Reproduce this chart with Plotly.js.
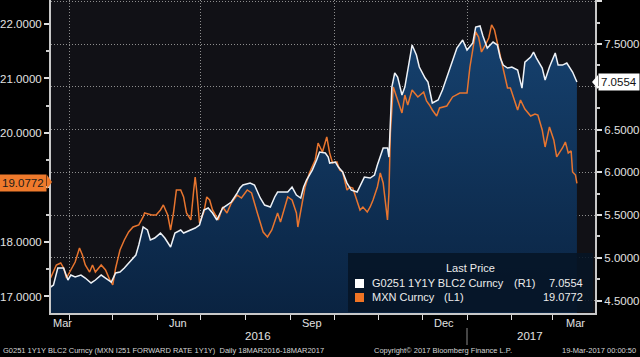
<!DOCTYPE html>
<html>
<head>
<meta charset="utf-8">
<script src="https://cdn.plot.ly/plotly-3.0.1.min.js"></script>
<style>
html,body{margin:0;padding:0;background:#000;}
#chart{width:640px;height:357px;}
</style>
</head>
<body>
<div id="chart"></div>
<script>
// G0251 1Y1Y BLC2 Curncy (right axis, R1)
const g0251Dates = ['2016-03-19','2016-03-21','2016-03-24','2016-03-28','2016-03-31','2016-04-02','2016-04-05','2016-04-09','2016-04-12','2016-04-16',
'2016-04-19','2016-04-23','2016-04-26','2016-04-30','2016-05-03','2016-05-06','2016-05-09','2016-05-13','2016-05-17','2016-05-19',
'2016-05-21','2016-05-22','2016-05-25','2016-05-27','2016-05-30','2016-06-03','2016-06-06','2016-06-10','2016-06-13','2016-06-17',
'2016-06-19','2016-06-24','2016-06-27','2016-06-30','2016-07-03','2016-07-06','2016-07-09','2016-07-12','2016-07-16','2016-07-19',
'2016-07-22','2016-07-26','2016-07-28','2016-07-30','2016-08-04','2016-08-07','2016-08-11','2016-08-14','2016-08-18','2016-08-21',
'2016-08-23','2016-08-27','2016-08-30','2016-09-02','2016-09-05','2016-09-08','2016-09-10','2016-09-12','2016-09-16','2016-09-19',
'2016-09-21','2016-09-25','2016-09-27','2016-09-28','2016-10-02','2016-10-04','2016-10-07','2016-10-10','2016-10-13','2016-10-17',
'2016-10-20','2016-10-22','2016-10-26','2016-10-29','2016-10-31','2016-11-04','2016-11-07','2016-11-08','2016-11-10','2016-11-12',
'2016-11-14','2016-11-17','2016-11-19','2016-11-21','2016-11-24','2016-11-27','2016-11-29','2016-12-03','2016-12-05','2016-12-08',
'2016-12-12','2016-12-15','2016-12-20','2016-12-25','2016-12-29','2017-01-01','2017-01-05','2017-01-07','2017-01-10','2017-01-12',
'2017-01-15','2017-01-19','2017-01-22','2017-01-24','2017-01-26','2017-01-29','2017-02-01','2017-02-05','2017-02-08','2017-02-10',
'2017-02-14','2017-02-16','2017-02-18','2017-02-22','2017-02-24','2017-02-27','2017-03-03','2017-03-05','2017-03-08','2017-03-11',
'2017-03-15','2017-03-17','2017-03-18'];
const g0251Values = [4.658,4.681,4.880,4.880,4.740,4.798,4.775,4.798,4.763,4.705,
4.740,4.798,4.763,4.716,4.822,4.833,4.880,4.950,5.032,5.149,
5.301,5.360,5.325,5.208,5.231,5.289,5.231,5.126,5.289,5.325,
5.289,5.325,5.348,5.383,5.558,5.582,5.523,5.442,5.582,5.617,
5.652,5.757,5.816,5.851,5.874,5.851,5.699,5.617,5.594,5.711,
5.769,5.769,5.769,5.827,5.734,5.699,5.827,5.909,6.026,6.143,
6.237,6.225,6.178,6.108,6.120,6.061,6.003,5.874,5.792,5.769,
5.874,5.944,5.933,5.968,6.085,6.284,6.284,6.178,6.997,7.161,
7.114,6.904,6.997,7.196,7.488,7.371,7.231,7.102,7.056,6.810,
6.845,6.962,7.196,7.453,7.547,7.430,7.512,7.699,7.711,7.594,
7.453,7.523,7.488,7.336,7.254,7.219,7.231,7.196,6.985,7.289,
7.348,7.406,7.336,7.219,7.079,7.231,7.395,7.254,7.254,7.278,
7.173,7.102,7.0554];

// MXN Curncy (left axis, L1)
const mxnDates = ['2016-03-19','2016-03-23','2016-03-26','2016-03-28','2016-03-30','2016-04-01','2016-04-05','2016-04-08','2016-04-10','2016-04-12',
'2016-04-15','2016-04-17','2016-04-19','2016-04-23','2016-04-26','2016-04-29','2016-05-01','2016-05-03','2016-05-06','2016-05-09',
'2016-05-12','2016-05-15','2016-05-19','2016-05-22','2016-05-23','2016-05-28','2016-05-31','2016-06-03','2016-06-05','2016-06-08',
'2016-06-10','2016-06-12','2016-06-14','2016-06-17','2016-06-19','2016-06-21','2016-06-24','2016-06-26','2016-06-27','2016-06-28',
'2016-06-30','2016-07-03','2016-07-05','2016-07-07','2016-07-09','2016-07-13','2016-07-16','2016-07-19','2016-07-22','2016-07-26',
'2016-07-29','2016-08-02','2016-08-05','2016-08-09','2016-08-13','2016-08-16','2016-08-19','2016-08-23','2016-08-25','2016-08-28',
'2016-08-30','2016-09-02','2016-09-05','2016-09-06','2016-09-09','2016-09-11','2016-09-14','2016-09-18','2016-09-20','2016-09-23',
'2016-09-26','2016-09-28','2016-09-30','2016-10-03','2016-10-05','2016-10-07','2016-10-10','2016-10-12','2016-10-14','2016-10-17',
'2016-10-19','2016-10-21','2016-10-24','2016-10-26','2016-10-28','2016-10-31','2016-11-02','2016-11-04','2016-11-06','2016-11-07',
'2016-11-08','2016-11-09','2016-11-11','2016-11-14','2016-11-17','2016-11-19','2016-11-21','2016-11-24','2016-11-28','2016-12-02',
'2016-12-04','2016-12-06','2016-12-08','2016-12-11','2016-12-13','2016-12-18','2016-12-22','2016-12-27','2017-01-01','2017-01-03',
'2017-01-05','2017-01-07','2017-01-09','2017-01-11','2017-01-13','2017-01-16','2017-01-18','2017-01-20','2017-01-22','2017-01-24',
'2017-01-26','2017-01-29','2017-01-31','2017-02-02','2017-02-05','2017-02-07','2017-02-10','2017-02-14','2017-02-17','2017-02-19',
'2017-02-22','2017-02-24','2017-02-27','2017-03-02','2017-03-04','2017-03-08','2017-03-10','2017-03-12','2017-03-14','2017-03-15',
'2017-03-17','2017-03-18'];
const mxnValues = [17.339,17.578,17.615,17.523,17.339,17.431,17.633,17.890,17.761,17.578,
17.449,17.578,17.449,17.578,17.486,17.303,17.211,17.523,17.853,18.037,
18.183,18.275,18.312,18.459,18.532,18.495,18.495,18.587,18.679,18.495,
18.220,18.532,18.954,18.954,18.826,18.532,18.404,18.954,19.193,18.954,
18.349,18.550,18.826,18.771,18.587,18.404,18.642,18.532,18.716,18.862,
18.807,18.954,18.899,18.532,18.183,18.092,18.220,18.532,18.367,18.642,
18.826,18.771,18.532,18.275,18.716,19.009,19.266,19.505,19.816,19.651,
19.927,19.633,19.450,19.468,19.321,19.284,18.954,19.009,18.991,18.771,
18.587,18.642,18.550,18.642,18.771,19.009,19.266,19.083,18.642,18.404,
18.899,20.000,20.844,20.606,20.367,20.697,20.514,20.789,20.661,20.752,
20.587,20.514,20.422,20.312,20.459,20.495,20.661,20.734,20.734,21.211,
21.560,21.853,21.761,21.486,21.578,21.743,21.982,21.890,21.651,21.431,
21.193,20.826,20.826,20.661,20.422,20.606,20.440,20.312,20.349,20.330,
20.055,19.743,20.110,19.872,19.560,19.725,19.835,19.633,19.670,19.284,
19.229,19.0772];

const leftTicks = [17, 18, 19, 20, 21, 22];
const leftTickText = ['17.0000', '18.0000', '', '20.0000', '21.0000', '22.0000']; // 19.0000 sits under the last-value tag
const rightTicks = [4.5, 5.0, 5.5, 6.0, 6.5, 7.0, 7.5, 8.0];
const rightTickText = ['4.5000','5.0000','5.5000','6.0000','6.5000','','7.5000','']; // 7.0000 sits under the last-value tag
const quarterStarts = ['2016-04-01','2016-07-01','2016-10-01','2017-01-01'];
const monthStarts = ['2016-04-01','2016-05-01','2016-06-01','2016-07-01','2016-08-01','2016-09-01','2016-10-01','2016-11-01','2016-12-01','2017-01-01','2017-02-01','2017-03-01'];
const monthLabels = ['Mar','Jun','Sep','Dec','Mar'];
const monthLabelDates = ['2016-03-27','2016-06-15','2016-09-16','2016-12-16','2017-03-17'];
const yearLabels = ['2016','2017'];
const lastG0251 = '7.0554';
const lastMXN = '19.0772';

const W = 544, H = 313, L = 51; // plot area in px, for overlay text
const px = x => (x - L) / W;
const py = y => (H - y) / H;

const rightRange = [4.354, 8.015];
const leftRange = [16.697, 22.44];

const traces = [
  // area under G0251 (base subplot, right axis)
  { x: g0251Dates, y: g0251Values, xaxis: 'x', yaxis: 'y', type: 'scatter', mode: 'lines',
    line: { width: 0, color: 'rgba(0,0,0,0)' }, fill: 'tozeroy',
    fillgradient: { type: 'vertical', start: 4.35, stop: 7.75,
      colorscale: [[0, '#0a2341'], [1, '#164270']] },
    hoverinfo: 'skip' },
  // MXN line (left axis, overlay)
  { x: mxnDates, y: mxnValues, xaxis: 'x', yaxis: 'y2', type: 'scatter', mode: 'lines',
    line: { width: 1.5, color: '#e8752f' } },
  // G0251 line on top (hidden duplicate of right axis)
  { x: g0251Dates, y: g0251Values, xaxis: 'x', yaxis: 'y3', type: 'scatter', mode: 'lines',
    line: { width: 1.5, color: '#eef2f7' } }
];

const gridCol = '#8e8e8e';
const axCol = '#c8c8c8';
const font = 'Liberation Sans, Arial, sans-serif';

const annotations = [];
monthLabels.forEach((t, i) => annotations.push({
  text: t, xref: 'x', x: monthLabelDates[i], yref: 'paper', y: py(323),
  showarrow: false, xanchor: 'center', yanchor: 'middle',
  font: { size: 11, color: '#e2e2e2', family: font }
}));
annotations.push({ text: yearLabels[0], xref: 'paper', x: px(258), yref: 'paper', y: py(336),
  showarrow: false, xanchor: 'center', yanchor: 'middle', font: { size: 11.5, color: '#e2e2e2', family: font } });
annotations.push({ text: yearLabels[1], xref: 'paper', x: px(530), yref: 'paper', y: py(336),
  showarrow: false, xanchor: 'center', yanchor: 'middle', font: { size: 11.5, color: '#e2e2e2', family: font } });
// footer
annotations.push({ text: 'G0251 1Y1Y BLC2 Curncy (MXN I251 FORWARD RATE 1Y1Y)  Daily 18MAR2016-18MAR2017',
  xref: 'paper', x: px(1), yref: 'paper', y: py(350), showarrow: false, xanchor: 'left', yanchor: 'middle',
  font: { size: 7.5, color: '#d6d6d6', family: font } });
annotations.push({ text: 'Copyright© 2017 Bloomberg Finance L.P.',
  xref: 'paper', x: px(372), yref: 'paper', y: py(350), showarrow: false, xanchor: 'left', yanchor: 'middle',
  font: { size: 7.5, color: '#d6d6d6', family: font } });
annotations.push({ text: '19-Mar-2017 00:00:50',
  xref: 'paper', x: px(638), yref: 'paper', y: py(350), showarrow: false, xanchor: 'right', yanchor: 'middle',
  font: { size: 7.5, color: '#d6d6d6', family: font } });
// legend
const lf = { size: 11, color: '#ececec', family: font };
annotations.push({ text: 'Last Price', xref: 'paper', x: px(470), yref: 'paper', y: py(268),
  showarrow: false, xanchor: 'center', yanchor: 'middle', font: lf });
annotations.push({ text: 'G0251 1Y1Y BLC2 Curncy', xref: 'paper', x: px(370), yref: 'paper', y: py(283),
  showarrow: false, xanchor: 'left', yanchor: 'middle', font: lf });
annotations.push({ text: '(R1)', xref: 'paper', x: px(512), yref: 'paper', y: py(283),
  showarrow: false, xanchor: 'left', yanchor: 'middle', font: lf });
annotations.push({ text: lastG0251, xref: 'paper', x: px(585), yref: 'paper', y: py(283),
  showarrow: false, xanchor: 'right', yanchor: 'middle', font: lf });
annotations.push({ text: 'MXN Curncy', xref: 'paper', x: px(370), yref: 'paper', y: py(297),
  showarrow: false, xanchor: 'left', yanchor: 'middle', font: lf });
annotations.push({ text: '(L1)', xref: 'paper', x: px(442), yref: 'paper', y: py(297),
  showarrow: false, xanchor: 'left', yanchor: 'middle', font: lf });
annotations.push({ text: lastMXN, xref: 'paper', x: px(585), yref: 'paper', y: py(297),
  showarrow: false, xanchor: 'right', yanchor: 'middle', font: lf });
// last-value tags
annotations.push({ text: lastG0251, xref: 'paper', x: px(598), yref: 'y', y: g0251Values[g0251Values.length - 1],
  showarrow: false, xanchor: 'left', yanchor: 'middle', bgcolor: '#ffffff', borderpad: 2,
  font: { size: 11.5, color: '#111', family: font } });
annotations.push({ text: lastMXN, xref: 'paper', x: px(47), yref: 'y2', y: mxnValues[mxnValues.length - 1],
  showarrow: false, xanchor: 'right', yanchor: 'middle', bgcolor: '#ef7a2c', borderpad: 2,
  font: { size: 11.5, color: '#1a1a1a', family: font } });

const shapes = [
  { type: 'rect', xref: 'paper', yref: 'paper', x0: px(348), x1: px(593), y0: py(312), y1: py(253),
    fillcolor: 'rgba(6,20,38,0.88)', line: { width: 0 }, layer: 'above' },
  { type: 'rect', xref: 'paper', yref: 'paper', x0: px(355), x1: px(364), y0: py(288), y1: py(279),
    fillcolor: '#ffffff', line: { width: 0 }, layer: 'above' },
  { type: 'rect', xref: 'paper', yref: 'paper', x0: px(355), x1: px(364), y0: py(302), y1: py(293),
    fillcolor: '#f07424', line: { width: 0 }, layer: 'above' },
  { type: 'line', xref: 'paper', yref: 'paper', x0: px(467), x1: px(467), y0: py(328), y1: py(345),
    line: { width: 1, color: '#8a8a8a' } },
  { type: 'path', xref: 'paper', yref: 'paper',
    path: `M ${px(598)} ${py(75)} L ${px(592)} ${py(82)} L ${px(598)} ${py(89)} Z`,
    fillcolor: '#ffffff', line: { width: 0 } },
  { type: 'path', xref: 'paper', yref: 'paper',
    path: `M ${px(47)} ${py(175)} L ${px(52)} ${py(182)} L ${px(47)} ${py(189)} Z`,
    fillcolor: '#ef7a2c', line: { width: 0 } }
];

const tickFont = { size: 11.5, color: '#e2e2e2', family: font };

const layout = {
  width: 640, height: 357,
  margin: { l: 51, r: 45, t: 0, b: 44, pad: 0 },
  paper_bgcolor: '#000000', plot_bgcolor: '#111116',
  showlegend: false,
  font: { family: font, size: 11, color: '#e2e2e2' },
  xaxis: {
    type: 'date', range: ['2016-03-19 07:00', '2017-03-30 12:00'],
    tickmode: 'array', tickvals: quarterStarts, showticklabels: false,
    ticks: 'outside', ticklen: 5, tickcolor: '#dddddd', tickwidth: 1,
    showgrid: true, gridcolor: gridCol, griddash: '1px,2px', gridwidth: 1,
    showline: true, linecolor: axCol, linewidth: 2, zeroline: false,
    minor: { tickmode: 'array', tickvals: monthStarts, ticks: 'outside', ticklen: 5, tickcolor: '#dddddd', showgrid: false }
  },
  // right axis (G0251), base subplot
  yaxis: {
    side: 'right', range: rightRange,
    tickmode: 'array', tickvals: rightTicks, ticktext: rightTickText,
    ticks: 'outside', ticklen: 5, tickwidth: 2, tickcolor: '#e0e0e0',
    showgrid: true, gridcolor: gridCol, griddash: '1px,2px', gridwidth: 1,
    zeroline: false, showline: true, linecolor: axCol, linewidth: 2,
    tickfont: tickFont,
    minor: { dtick: 0.25, tick0: 0, ticks: 'outside', ticklen: 3, tickcolor: '#cccccc', showgrid: false }
  },
  // left axis (MXN)
  yaxis2: {
    overlaying: 'y', side: 'left', range: leftRange,
    tickmode: 'array', tickvals: leftTicks, ticktext: leftTickText,
    ticks: 'outside', ticklen: 5, tickwidth: 2, tickcolor: '#e0e0e0',
    showgrid: false, zeroline: false, showline: true, linecolor: axCol, linewidth: 2,
    tickfont: tickFont,
    minor: { dtick: 0.5, tick0: 0, ticks: 'outside', ticklen: 3, tickcolor: '#cccccc', showgrid: false }
  },
  // hidden duplicate of the right axis so the white line draws above the orange one
  yaxis3: {
    overlaying: 'y', side: 'right', range: rightRange, visible: false,
    showgrid: false, zeroline: false
  },
  annotations: annotations,
  shapes: shapes
};

Plotly.newPlot('chart', traces, layout, { displayModeBar: false, staticPlot: true });
</script>
</body>
</html>
